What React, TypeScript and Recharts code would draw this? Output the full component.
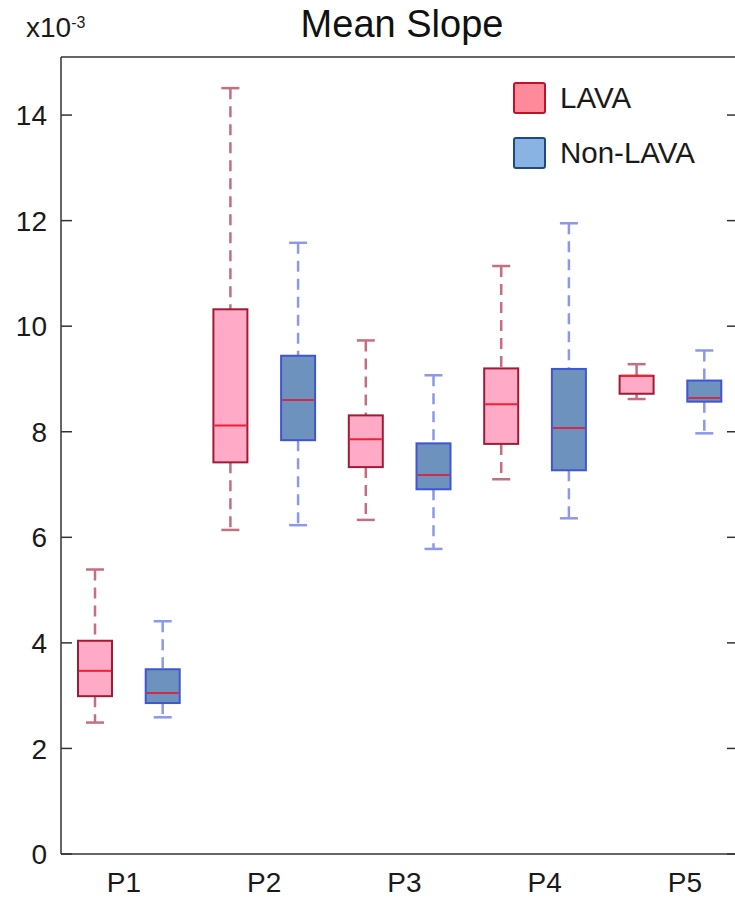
import { Bar, ComposedChart, ReferenceLine, XAxis, YAxis } from "recharts"

const periods = ["P1", "P2", "P3", "P4", "P5"]
const groups = ["LAVA", "Non-LAVA"]

// values in units of 1e-3
const lavaMin = [2.49, 6.14, 6.33, 7.1, 8.62]
const lavaQ1 = [2.99, 7.42, 7.33, 7.77, 8.72]
const lavaMedian = [3.47, 8.12, 7.86, 8.52, 9.06]
const lavaQ3 = [4.04, 10.32, 8.31, 9.2, 9.06]
const lavaMax = [5.39, 14.51, 9.73, 11.14, 9.28]

const nonMin = [2.59, 6.23, 5.78, 6.36, 7.97]
const nonQ1 = [2.86, 7.84, 6.91, 7.27, 8.57]
const nonMedian = [3.05, 8.6, 7.18, 8.07, 8.64]
const nonQ3 = [3.5, 9.44, 7.78, 9.19, 8.97]
const nonMax = [4.41, 11.58, 9.07, 11.95, 9.54]

const yTicks = [0, 2, 4, 6, 8, 10, 12, 14]
const labelTicks = [1, 2, 3, 4, 5]

const rows = periods.flatMap((p, i) => [
  {
    slot: p + "-LAVA",
    pos: i + 1,
    group: groups[0],
    min: lavaMin[i],
    q1: lavaQ1[i],
    median: lavaMedian[i],
    q3: lavaQ3[i],
    max: lavaMax[i],
    range: [lavaMin[i], lavaMax[i]],
  },
  {
    slot: p + "-Non",
    pos: i + 1,
    group: groups[1],
    min: nonMin[i],
    q1: nonQ1[i],
    median: nonMedian[i],
    q3: nonQ3[i],
    max: nonMax[i],
    range: [nonMin[i], nonMax[i]],
  },
])

const styles: Record<string, any> = {
  LAVA: { fill: "#ffabc8", edge: "#9e1c36", whisker: "#c46e80", median: "#f2202e" },
  "Non-LAVA": { fill: "#6e92be", edge: "#3f55d2", whisker: "#8c98ec", median: "#d42a4a" },
}

const FONT = '"Liberation Sans", Arial, sans-serif'

function BoxShape(props: any) {
  const { x, y, width, height, payload } = props
  const { min, q1, median, q3, max, group } = payload
  const top = Math.min(y, y + height)
  const h = Math.abs(height)
  const k = h / (max - min)
  const py = (v: number) => top + (max - v) * k
  const cx = x + width / 2
  const s = styles[group]
  const cap = 9
  return (
    <g>
      <line x1={cx} x2={cx} y1={py(max)} y2={py(q3)} stroke={s.whisker} strokeWidth={2.5} strokeDasharray="11 7" />
      <line x1={cx} x2={cx} y1={py(q1)} y2={py(min)} stroke={s.whisker} strokeWidth={2.5} strokeDasharray="11 7" />
      <line x1={cx - cap} x2={cx + cap} y1={py(max)} y2={py(max)} stroke={s.whisker} strokeWidth={2.5} />
      <line x1={cx - cap} x2={cx + cap} y1={py(min)} y2={py(min)} stroke={s.whisker} strokeWidth={2.5} />
      <rect x={x} y={py(q3)} width={width} height={py(q1) - py(q3)} fill={s.fill} stroke={s.edge} strokeWidth={2} />
      <line x1={x + 1} x2={x + width - 1} y1={py(median)} y2={py(median)} stroke={s.median} strokeWidth={2} />
    </g>
  )
}

function LeftTick(props: any) {
  const { x, y, payload } = props
  return (
    <g>
      <line x1={x} x2={x + 11} y1={y} y2={y} stroke="#333" strokeWidth={1.5} />
      <text x={x - 14} y={y} dy="0.36em" textAnchor="end" fontSize={28} fill="#1a1a1a" fontFamily={FONT}>
        {payload.value}
      </text>
    </g>
  )
}

function RightTick(props: any) {
  const { x, y } = props
  return <line x1={x - 11} x2={x} y1={y} y2={y} stroke="#333" strokeWidth={1.5} />
}

function BottomTick(props: any) {
  const { x, y, payload } = props
  return (
    <text x={x} y={y + 38} textAnchor="middle" fontSize={28} fill="#1a1a1a" fontFamily={FONT}>
      {periods[payload.value - 1]}
    </text>
  )
}

function LegendBox() {
  const items = [
    { name: groups[0], fill: "#ff8a9a", edge: "#c0102a" },
    { name: groups[1], fill: "#88b3e2", edge: "#1f4a7e" },
  ]
  return (
    <div style={{ position: "absolute", left: 513, top: 70, fontFamily: FONT }}>
      {items.map((it) => (
        <div key={it.name} style={{ display: "flex", alignItems: "center", height: 55 }}>
          <div
            style={{
              width: 29,
              height: 28,
              background: it.fill,
              border: `2px solid ${it.edge}`,
              borderRadius: 3,
              marginRight: 14,
            }}
          />
          <span style={{ fontSize: 29.5, color: "#1a1a1a" }}>{it.name}</span>
        </div>
      ))}
    </div>
  )
}

export default function App() {
  return (
    <div
      style={{
        position: "absolute",
        left: 0,
        top: 0,
        width: 735,
        height: 900,
        overflow: "hidden",
        background: "#fff",
        fontFamily: FONT,
      }}
    >
      <div style={{ position: "absolute", left: 0, width: 804, top: 5, textAlign: "center", fontSize: 38, lineHeight: 1, color: "#111" }}>
        Mean Slope
      </div>
      <div style={{ position: "absolute", left: 26, top: 14, fontSize: 28, lineHeight: 1, color: "#1a1a1a" }}>
        x10<span style={{ fontSize: 16, position: "relative", top: -9 }}>-3</span>
      </div>
      <ComposedChart width={745} height={900} data={rows} margin={{ top: 57, right: 0, bottom: 0, left: 0 }}>
        <XAxis xAxisId="slot" dataKey="slot" hide />
        <XAxis
          xAxisId="lbl"
          dataKey="pos"
          type="number"
          domain={[0.551, 5.378]}
          allowDataOverflow
          ticks={labelTicks}
          height={46}
          tickSize={0}
          tickMargin={0}
          tickLine={false}
          axisLine={{ stroke: "#333", strokeWidth: 1.5 }}
          tick={<BottomTick />}
        />
        <YAxis
          yAxisId="left"
          domain={[0, 15.1]}
          allowDataOverflow
          ticks={yTicks}
          width={61}
          tickSize={0}
          tickMargin={0}
          tickLine={false}
          axisLine={{ stroke: "#333", strokeWidth: 1.5 }}
          tick={<LeftTick />}
        />
        <YAxis
          yAxisId="right"
          orientation="right"
          domain={[0, 15.1]}
          allowDataOverflow
          ticks={yTicks}
          width={7}
          tickSize={0}
          tickMargin={0}
          tickLine={false}
          axisLine={{ stroke: "#333", strokeWidth: 1.5 }}
          tick={<RightTick />}
        />
        <ReferenceLine yAxisId="left" xAxisId="slot" y={15.1} stroke="#333" strokeWidth={1.5} />
        <Bar
          xAxisId="slot"
          yAxisId="left"
          dataKey="range"
          barSize={34}
          shape={<BoxShape />}
          isAnimationActive={false}
        />
      </ComposedChart>
      <LegendBox />
    </div>
  )
}
